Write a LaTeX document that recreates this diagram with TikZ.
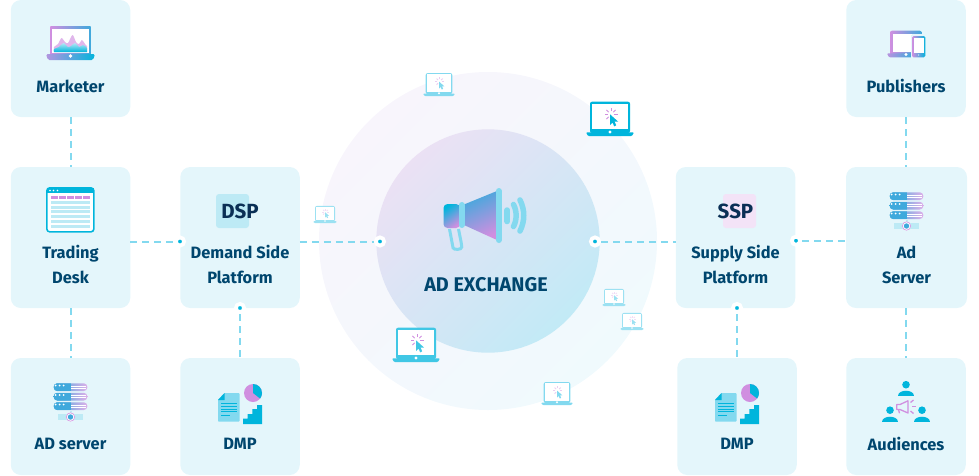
\documentclass[tikz,border=0pt]{standalone}
\usepackage{fontspec}
\setmainfont{Fira Sans}
\definecolor{adpale}{HTML}{E4F6FB}
\definecolor{adblue}{HTML}{00B5DC}
\definecolor{adsky}{HTML}{3FA9DC}
\definecolor{adaqua}{HTML}{83D9EF}
\definecolor{adice}{HTML}{BDEAF5}
\definecolor{adpurple}{HTML}{D08FE0}
\definecolor{adink}{HTML}{00466E}
\definecolor{adnavy}{HTML}{0A2F55}
\definecolor{adhalotop}{HTML}{F8F5FC}
\definecolor{adhalolow}{HTML}{F0FAFD}
\definecolor{adcoretop}{HTML}{EBE1F4}
\definecolor{adcorelow}{HTML}{C2EAF6}
\definecolor{adconemid}{HTML}{6F9FDC}
\tikzset{
  adbox/.style={fill=adpale, rounded corners=10, inner sep=0, minimum width=119.5, minimum height=117},
  adtall/.style={adbox, minimum height=141},
  adlabel/.style={text=adink, align=center, inner sep=0, font=\bfseries\fontsize{16.4}{25}\selectfont},
  adtag/.style={text=adnavy, inner sep=0, font=\bfseries\fontsize{20.5}{20.5}\selectfont},
  adport/.style={circle, draw=white, line width=3.8, fill=adblue, minimum size=8.2, inner sep=0},
  adlink/.style={adaqua, line width=2, dash pattern=on 7 off 5},
  pics/adlaptop/.style 2 args={code={
    \fill[#1, rounded corners=2] (-20,-34.3) rectangle (20,-3);
    \fill[white] (-18.2,-32.5) rectangle (18.2,-6.7);
    \fill[#1, rounded corners=1] (-24,-3.7) -- (24,-3.7) -- (22,0) -- (-22,0) -- cycle;
    \fill[white] (0,-4) circle (1.7);
    \fill[#1] (0,-21.7) -- (0,-11) -- (2.5,-13.5) -- (4.2,-9.7) -- (6.2,-10.7) -- (4.5,-14.5) -- (8,-14.5) -- cycle;
    \foreach \a in {-90,-135,180,135,-45,0}
      \draw[#2, line width=.9] ($(1,-21.5)+(\a:3.3)$) -- ($(1,-21.5)+(\a:6.5)$);
  }},
  pics/adserver/.style={code={
    \foreach \y in {0,9.5,19} {
      \begin{scope}
        \clip[rounded corners=3.5] (-16.8,\y-13.2) rectangle (16.8,\y-5.5);
        \shade[left color=adsky, right color=adpurple!70] (-16.8,\y-13.2) rectangle (16.8,\y-5.5);
        \fill[adsky] (-16.8,\y-13.2) rectangle (.5,\y-5.5);
        \fill[white] (.5,\y-11) rectangle (15.8,\y-10.4);
        \fill[white] (.5,\y-8.6) rectangle (15.8,\y-8);
      \end{scope}
      \foreach \x in {-14.8,-10.8,-6.8}
        \fill[white] (\x,\y-11) circle (1);
    }
    \fill[adice] (-12.5,17.5) rectangle (12.5,23.5);
    \fill[adice] (-1,14) rectangle (1,18);
    \fill[white] (0,20.5) circle (4.6);
    \draw[adpurple, line width=.6] (0,20.5) circle (4.2);
    \fill[adsky] (0,20.5) circle (2.7);
  }},
  pics/addmp/.style={code={
    \fill[adaqua, rounded corners=.8] (-15.5,-23) -- (-.5,-23) -- (-.5,5.7) -- (-22,5.7) -- (-22,-16) -- cycle;
    \fill[adblue] (-22,-16) -- (-15.5,-23) -- (-15.5,-16) -- cycle;
    \foreach \y in {-12.7,-9.3,-7,-4.7}
      \fill[adblue] (-19,\y-.4) rectangle (-3,\y+.4);
    \fill[adblue] (-19,-1.1) rectangle (-10,-.3);
    \fill[adpurple] (13,-23) circle (9);
    \fill[adblue] (13,-23) -- (13,-32) arc (-90:38:9) -- cycle;
    \fill[adblue] (3,8) -- (3,2.7) -- (7.7,2.7) -- (7.7,-2) -- (12.3,-2) -- (12.3,-7) -- (17,-7) -- (17,-11) -- (22,-11) -- (22,8) -- cycle;
  }},
  pics/adperson/.style={code={
    \fill[adblue] (0,-6.3) circle (3.8);
    \fill[adblue] (-7.7,5) .. controls (-7.7,-2) and (7.7,-2) .. (7.7,5) -- cycle;
  }}
}
\usetikzlibrary{calc}
\begin{document}
\begin{tikzpicture}[x=1pt, y=-1pt]
    \useasboundingbox (0,0) rectangle (979,475);
    \shade[shading=axis, left color=adhalotop, right color=adhalolow, shading angle=45]
      (488,241) circle (169);
    \shade[shading=axis, left color=adcoretop, right color=adcorelow, shading angle=45]
      (488,241) circle (111.7);

    \node[adbox] (marketerbox) at (70.5,58.5) {};
    \node[adtall] (tradingbox) at (70.5,237.5) {};
    \node[adbox] (adserverbox) at (70.5,416.5) {};
    \node[adtall] (dspbox) at (240,237.5) {};
    \node[adbox] (dmpbox) at (240,416.5) {};
    \node[adtall] (sspbox) at (735.5,237.5) {};
    \node[adbox] (dmptwobox) at (737,416.5) {};
    \node[adbox] (publisherbox) at (906,58.5) {};
    \node[adtall, minimum width=121] (adbox) at (906.5,237.5) {};
    \node[adbox] (audiencebox) at (906,416.5) {};

    \node[adport] (dspleft) at (180,241.5) {};
    \node[adport] (dspdown) at (240,308) {};
    \node[adport] (exleft) at (380,241.5) {};
    \node[adport] (exright) at (595,241.5) {};
    \node[adport] (sspdown) at (737,308) {};
    \node[adport] (sspright) at (796,240.7) {};

    \draw[adlink] (marketerbox.south) -- (tradingbox.north);
    \draw[adlink] (tradingbox.south) -- (adserverbox.north);
    \draw[adlink] (tradingbox.east |- dspleft) -- (dspleft);
    \draw[adlink] (dspbox.east |- exleft) -- (exleft);
    \draw[adlink] (dspdown) -- (dmpbox.north);
    \draw[adlink] (exright) -- (sspbox.west |- exright);
    \draw[adlink] (sspdown) -- (dmptwobox.north);
    \draw[adlink] (sspright) -- (adbox.west |- sspright);
    \draw[adlink] (publisherbox.south) -- (publisherbox.south |- adbox.north);
    \draw[adlink] (audiencebox.north |- adbox.south) -- (audiencebox.north);

    \node[adlabel] (marketerlabel) at (70.5,86) {Marketer};
    \node[adlabel] (tradinglabel) at (70.5,264.5) {Trading\\Desk};
    \node[adlabel] (adserverlabel) at (70.5,444) {AD server};
    \node[adlabel] (dsplabel) at (240,264.5) {Demand Side\\Platform};
    \node[adlabel] (dmplabel) at (240,444) {DMP};
    \node[adlabel, font=\bfseries\fontsize{19.8}{20}\selectfont] (exchangelabel) at (486,285) {AD EXCHANGE};
    \node[adlabel] (ssplabel) at (735.5,264.5) {Supply Side\\Platform};
    \node[adlabel] (dmptwolabel) at (737,444) {DMP};
    \node[adlabel] (publisherlabel) at (906,85.5) {Publishers};
    \node[adlabel] (adlabel) at (906.5,264.5) {Ad\\Server};
    \node[adlabel] (audiencelabel) at (906,443.5) {Audiences};

    \fill[adice, rounded corners=3] (216,194) rectangle (249,228);
    \node[adtag] (dsptag) at (240,211) {DSP};
    \fill[adpurple!25!white, rounded corners=3] (723,194) rectangle (756,228);
    \node[adtag] (ssptag) at (735.5,211) {SSP};

    \pic at (610,136) {adlaptop={adblue}{adpurple}};
    \pic at (416,362) {adlaptop={adblue!75!white}{adpurple}};
    \pic[scale=.667] at (439,96) {adlaptop={adaqua}{adpurple!45!white}};
    \pic[scale=.667] at (557,405) {adlaptop={adaqua}{adpurple!45!white}};
    \pic[scale=.5] at (325,223) {adlaptop={adaqua!80!white}{adpurple!30!white}};
    \pic[scale=.5] at (614,306) {adlaptop={adaqua!80!white}{adpurple!30!white}};
    \pic[scale=.5] at (632,330) {adlaptop={adaqua!80!white}{adpurple!30!white}};

    \shade[shading=axis, left color=adsky, middle color=adconemid, right color=adpurple, shading angle=25]
      (464,204.5) -- (497,191) -- (497,240) -- (464,225) -- cycle;
    \shade[shading=axis, left color=adblue, right color=adpurple, shading angle=35, rounded corners=4]
      (443.5,204) rectangle (460,228);
    \draw[adaqua, line width=6, line cap=round] (461.7,205) -- (461.7,225);
    \draw[adaqua, line width=6, line cap=round] (498.8,191) -- (498.8,240);
    \draw[adaqua, line width=3, rounded corners=3] (449.5,229) -- (452.5,245) .. controls (453.5,250) and (462,250) .. (461.5,244) -- (458.5,229);
    \draw[adaqua, line width=5.5, line cap=round] (507.2,210) -- (507.2,221.5);
    \draw[adaqua, line width=5.5, line cap=round] (513.5,204.5) .. controls (517,211) and (517,220) .. (513.5,226.5);
    \draw[adaqua, line width=5.5, line cap=round] (520,200) .. controls (525,210) and (525,221) .. (520,231);

    \shade[left color=adpurple, right color=adsky] (50.3,26) rectangle (90.7,55);
    \fill[white] (52.3,28.5) rectangle (88.7,53);
    \shade[left color=adpurple!80!adsky, right color=adblue, rounded corners=1.5] (46,54) -- (95,54) -- (93,60) -- (48,60) -- cycle;
    \fill[white] (70.5,56) circle (1.8);
    \fill[adpurple!65!white] plot[smooth] coordinates {(54,52) (54,47) (58,44) (61.5,38) (65,42) (68,43) (72.5,35) (76,42) (79,44) (82,40) (85,44) (87,46) (87,52)} -- cycle;
    \shade[bottom color=adblue, top color=adaqua!60!white] plot[smooth] coordinates {(54,52) (54,49) (59,47) (63.5,43) (68,47) (71,46) (75,43) (79,47) (83,45) (87,48) (87,52)} -- cycle;

    \fill[white, rounded corners=3] (46,187) rectangle (94.7,232.7);
    \draw[adblue, line width=1.6, rounded corners=3] (46.8,187.8) rectangle (93.9,231.9);
    \fill[adblue] (46.8,187.8) rectangle (93.9,193);
    \foreach \x in {50,53.5,57.5}
      \fill[white] (\x,190.5) circle (.9);
    \foreach \x in {50.7,58.9,67,75.1,83.3}
      \fill[adpurple] (\x,195.5) rectangle (\x+6.8,198.5);
    \foreach \y in {200.7,205.7,210.4,215.2,220,225}
      \fill[adice] (50.7,\y) rectangle (90,\y+2.8);

    \pic at (70.5,396.5) {adserver};
    \pic at (906.5,205.5) {adserver};
    \pic at (240,416) {addmp};
    \pic at (737,416) {addmp};

    \shade[left color=adpurple, right color=adsky, rounded corners=2] (890,30.7) rectangle (921.7,56);
    \fill[white] (892.7,33.5) rectangle (912,51.7);
    \fill[adpale] (912,33.5) rectangle (923,36);
    \shade[left color=adpurple!85!adsky, right color=adsky, rounded corners=1] (887,53.3) -- (911.7,53.3) -- (911.7,57.3) -- (889,57.3) -- cycle;
    \fill[white] (906,54.5) circle (1.6);
    \fill[adpale] (910.8,35.2) rectangle (926.2,58);
    \shade[left color=adpurple, right color=adblue, rounded corners=1.5] (912,36) rectangle (925.3,57.3);
    \fill[white] (913.5,38) rectangle (924,53);
    \fill[white] (918.7,55) circle (.7);

    \pic at (906,391) {adperson};
    \pic at (890,416.5) {adperson};
    \pic at (922,416.5) {adperson};
    \draw[adpurple, line width=1.3, line join=round] (896.7,404.5) -- (900,404.5) -- (908,400.8) -- (908,413) -- (900,409.5) -- (896.7,409.5) -- cycle;
    \draw[adpurple, line width=1.3] (898.5,409.5) -- (899.5,413.3);
    \draw[adpurple, line width=1.3] (912,406.7) -- (915.5,406.7);
    \draw[adpurple, line width=1.3] (910.5,402.5) -- (913.5,400);
    \draw[adpurple, line width=1.3] (910.5,411) -- (913.5,413.5);
  \end{tikzpicture}
\end{document}
